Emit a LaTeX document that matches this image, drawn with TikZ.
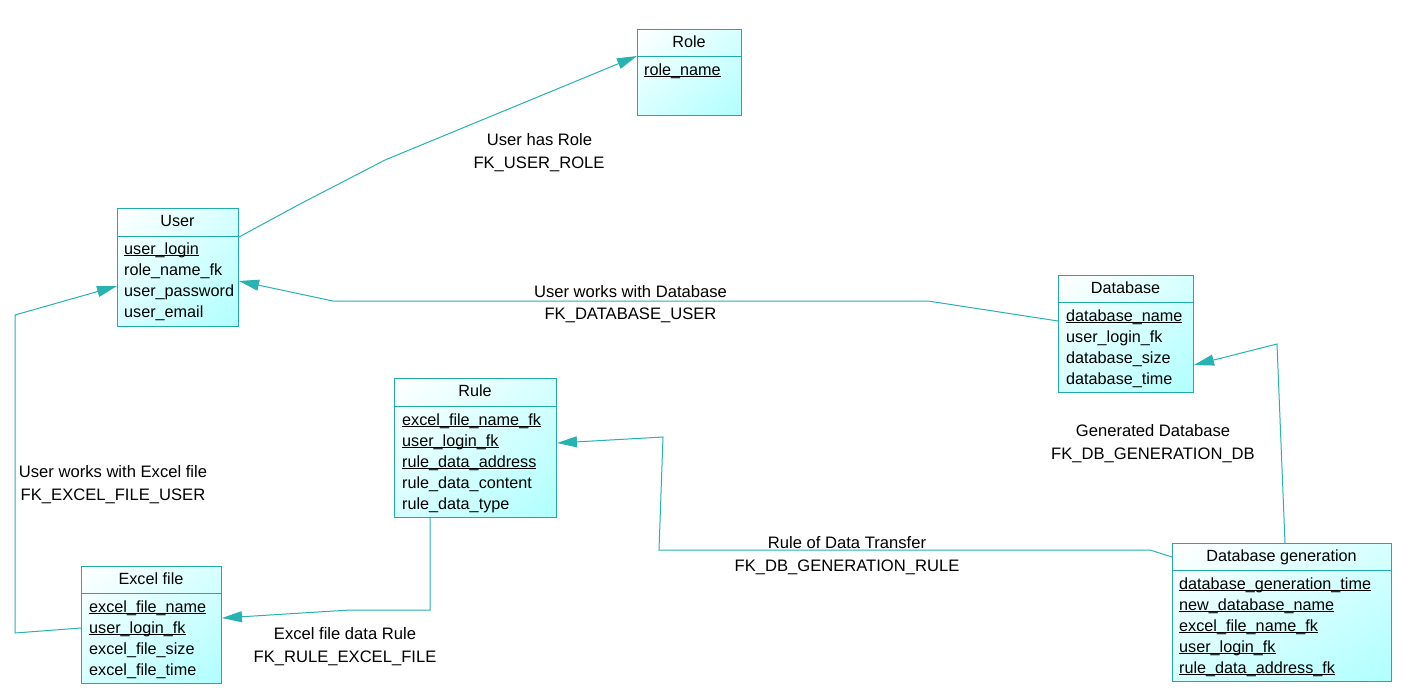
\documentclass[tikz,border=0pt]{standalone}
\usepackage{fontspec}
\setmainfont{Liberation Sans}
\usetikzlibrary{calc,arrows.meta,shadings}
\definecolor{bord}{RGB}{32,170,170}
\definecolor{lnk}{RGB}{40,178,178}
\definecolor{fillend}{RGB}{176,255,255}
\definecolor{fillmid}{RGB}{214,255,255}
\newcommand\ulx[1]{\setbox0\hbox{#1}\rlap{\rule[-1.8pt]{\wd0}{0.9pt}}\box0}
\begin{document}
\begin{tikzpicture}[x=1pt,y=-1pt,
  every node/.style={font=\fontsize{16.2}{19}\selectfont, text=black, inner sep=0pt},
  entity/.style={draw=bord, line width=1pt, shade, upper left=white, upper right=fillmid,
     lower left=fillmid, lower right=fillend, anchor=north west},
  divline/.style={draw=bord, line width=1pt},
  row/.style={anchor=base west},
  ttl/.style={anchor=base},
  lbl/.style={anchor=base, font=\fontsize{16.6}{19}\selectfont},
  link/.style={draw=lnk, line width=1pt, -{Triangle[length=20pt,width=11pt]}}]
\useasboundingbox (0,0) rectangle (1402,694);
\fill[white] (0,0) rectangle (1402,694);

% Role
\node[entity, minimum width=104pt, minimum height=86pt] (role) at (637,29) {};
\draw[divline] ($(role.north west)+(0,27)$) -- ($(role.north east)+(0,27)$);
\node[ttl] (roleT) at (689,47) {Role};
\node[row] (role1) at (644,75) {\ulx{role\_name}};

% User
\node[entity, minimum width=121pt, minimum height=118pt] (user) at (117,208) {};
\draw[divline] ($(user.north west)+(0,28)$) -- ($(user.north east)+(0,28)$);
\node[ttl] (userT) at (177.5,226) {User};
\node[row] (user1) at (124,254) {\ulx{user\_login}};
\node[row] (user2) at (124,275) {role\_name\_fk};
\node[row] (user3) at (124,296) {user\_password};
\node[row] (user4) at (124,317) {user\_email};

% Database
\node[entity, minimum width=135pt, minimum height=117pt] (database) at (1058,275) {};
\draw[divline] ($(database.north west)+(0,27)$) -- ($(database.north east)+(0,27)$);
\node[ttl] (dbT) at (1125.5,293) {Database};
\node[row] (db1) at (1066,321) {\ulx{database\_name}};
\node[row] (db2) at (1066,342) {user\_login\_fk};
\node[row] (db3) at (1066,363) {database\_size};
\node[row] (db4) at (1066,384) {database\_time};

% Rule
\node[entity, minimum width=162pt, minimum height=139pt] (rule) at (394,378) {};
\draw[divline] ($(rule.north west)+(0,28)$) -- ($(rule.north east)+(0,28)$);
\node[ttl] (ruleT) at (475,396) {Rule};
\node[row] (rule1) at (402,425) {\ulx{excel\_file\_name\_fk}};
\node[row] (rule2) at (402,446) {\ulx{user\_login\_fk}};
\node[row] (rule3) at (402,467) {\ulx{rule\_data\_address}};
\node[row] (rule4) at (402,488) {rule\_data\_content};
\node[row] (rule5) at (402,509) {rule\_data\_type};

% Excel file
\node[entity, minimum width=140pt, minimum height=117pt] (excel) at (81,566) {};
\draw[divline] ($(excel.north west)+(0,27)$) -- ($(excel.north east)+(0,27)$);
\node[ttl] (excelT) at (151,584) {Excel file};
\node[row] (ex1) at (89,612) {\ulx{excel\_file\_name}};
\node[row] (ex2) at (89,633) {\ulx{user\_login\_fk}};
\node[row] (ex3) at (89,654) {excel\_file\_size};
\node[row] (ex4) at (89,675) {excel\_file\_time};

% Database generation
\node[entity, minimum width=219pt, minimum height=138pt] (dbgen) at (1172,543) {};
\draw[divline] ($(dbgen.north west)+(0,27)$) -- ($(dbgen.north east)+(0,27)$);
\node[ttl] (dbgT) at (1281.5,561) {Database generation};
\node[row] (dg1) at (1179,589) {\ulx{database\_generation\_time}};
\node[row] (dg2) at (1179,610) {\ulx{new\_database\_name}};
\node[row] (dg3) at (1179,631) {\ulx{excel\_file\_name\_fk}};
\node[row] (dg4) at (1179,652) {\ulx{user\_login\_fk}};
\node[row] (dg5) at (1179,673) {\ulx{rule\_data\_address\_fk}};

% Connectors
\draw[link] ($(user.north east)+(0,29)$) -- (300,204) -- (385,160) -- ($(role.north west)+(0,27)$);
\node[lbl] (l1a) at (539.5,145) {User has Role};
\node[lbl] (l1b) at (539,168) {FK\_USER\_ROLE};

\draw[link] ($(database.north west)+(0,46)$) -- (928,301) -- (333,301) -- ($(user.north east)+(0,73)$);
\node[lbl] (l2a) at (630.5,297) {User works with Database};
\node[lbl] (l2b) at (630.5,319) {FK\_DATABASE\_USER};

\draw[link] ($(excel.north west)+(0,62)$) -- (15,633) -- (15,315) -- ($(user.north west)+(0,78)$);
\node[lbl] (l3a) at (113,477) {User works with Excel file};
\node[lbl] (l3b) at (113,500) {FK\_EXCEL\_FILE\_USER};

\draw[link] ($(rule.south west)+(36,0)$) -- (430,610) -- (350,610) -- ($(excel.north east)+(0,52)$);
\node[lbl] (l4a) at (345,639) {Excel file data Rule};
\node[lbl] (l4b) at (345,662) {FK\_RULE\_EXCEL\_FILE};

\draw[link] ($(dbgen.north west)+(0,14)$) -- (1150,550) -- (659,550) -- (663,437) -- ($(rule.north east)+(0,65)$);
\node[lbl] (l5a) at (847,548) {Rule of Data Transfer};
\node[lbl] (l5b) at (847,571) {FK\_DB\_GENERATION\_RULE};

\draw[link] ($(dbgen.north west)+(113,0)$) -- (1277,344) -- ($(database.north east)+(0,90)$);
\node[lbl] (l6a) at (1153,436) {Generated Database};
\node[lbl] (l6b) at (1153,459) {FK\_DB\_GENERATION\_DB};
\end{tikzpicture}
\end{document}
